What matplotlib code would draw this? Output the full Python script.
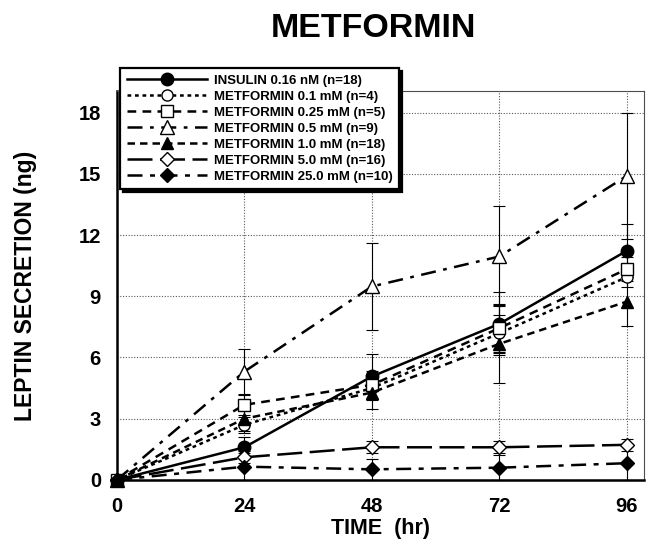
import matplotlib
matplotlib.use('Agg')
import matplotlib.pyplot as plt

plt.rcParams['font.family'] = ['Liberation Sans', 'DejaVu Sans']
plt.rcParams['font.weight'] = 'bold'

# time points (hr)
time = [0, 24, 48, 72, 96]

# leptin secretion (ng)
insulin = [0, 1.6, 5.07, 7.65, 11.23]
met_01 = [0, 2.7, 4.5, 7.19, 9.94]
met_025 = [0, 3.68, 4.66, 7.44, 10.33]
met_05 = [0, 5.31, 9.48, 10.95, 14.9]
met_10 = [0, 3.0, 4.28, 6.67, 8.74]
met_50 = [0, 1.11, 1.6, 1.6, 1.72]
met_250 = [0, 0.65, 0.52, 0.6, 0.82]

# error bars (ng)
insulin_err = [0, 0.5, 1.1, 1.55, 1.3]
met_01_err = [0, 0.4, 0.6, 0.9, 0.5]
met_025_err = [0, 0.5, 0.7, 1.2, 0.6]
met_05_err = [0, 1.1, 2.15, 2.45, 3.1]
met_10_err = [0, 0.6, 0.8, 1.9, 1.2]
met_50_err = [0, 0.3, 0.3, 0.3, 0.3]
met_250_err = [0, 0.65, 0.5, 0.6, 0.82]

labels = ['INSULIN 0.16 nM (n=18)', 'METFORMIN 0.1 mM (n=4)', 'METFORMIN 0.25 mM (n=5)',
          'METFORMIN 0.5 mM (n=9)', 'METFORMIN 1.0 mM (n=18)', 'METFORMIN 5.0 mM (n=16)',
          'METFORMIN 25.0 mM (n=10)']

fig = plt.figure(figsize=(6.53, 5.46), dpi=100)
ax = fig.add_axes([0.179, 0.121, 0.807, 0.712])

series = [
    (insulin, insulin_err, '-', 'o', 'black'),
    (met_01, met_01_err, (0, (1.5, 1.5)), 'o', 'white'),
    (met_025, met_025_err, (0, (3.5, 2.5)), 's', 'white'),
    (met_05, met_05_err, (0, (6, 3, 1.5, 3)), '^', 'white'),
    (met_10, met_10_err, (0, (3, 2)), '^', 'black'),
    (met_50, met_50_err, (0, (10, 3)), 'D', 'white'),
    (met_250, met_250_err, (0, (6, 3, 2, 3)), 'D', 'black'),
]
msizes = [9, 8, 8, 10, 9, 7, 7]

for (vals, err, ls, mk, fc), lab, ms in zip(series, labels, msizes):
    ax.errorbar(time, vals, yerr=err, fmt='none', ecolor='black', elinewidth=0.8,
                capsize=4, capthick=0.8, clip_on=False, zorder=2)
    ax.plot(time, vals, color='black', linestyle=ls, linewidth=1.8,
            marker=mk, markersize=ms, markerfacecolor=fc, markeredgecolor='black',
            markeredgewidth=1.0, label=lab, clip_on=False, zorder=3)

ax.set_xlim(0, 99.2)
ax.set_ylim(0, 19.05)
ax.set_xticks(time)
ax.set_yticks([0, 3, 6, 9, 12, 15, 18])
ax.tick_params(axis='both', length=0, labelsize=14.5)
ax.tick_params(axis='x', pad=12)
ax.tick_params(axis='y', pad=11.5)
ax.grid(True, linestyle=(0, (1, 1.5)), color='0.35', linewidth=0.8)

ax.spines['left'].set_linewidth(1.8)
ax.spines['bottom'].set_linewidth(1.8)
ax.spines['right'].set_linewidth(0.8)
ax.spines['top'].set_linewidth(0.8)
ax.spines['right'].set_color('0.3')
ax.spines['top'].set_color('0.3')

ax.set_xlabel('TIME  (hr)', fontsize=15.5, fontweight='bold', labelpad=2)
ax.set_ylabel('LEPTIN SECRETION (ng)', fontsize=16.5, fontweight='bold', labelpad=30)
fig.text(0.572, 0.948, 'METFORMIN', fontsize=24.5, fontweight='bold', ha='center', va='center')

leg = ax.legend(loc='upper left', bbox_to_anchor=(0.184, 0.875), bbox_transform=fig.transFigure,
                fontsize=9.5, handlelength=6.1, labelspacing=0.28, borderaxespad=0,
                fancybox=False, framealpha=1, edgecolor='black', handletextpad=0.5,
                shadow={'color': 'black', 'alpha': 1}, borderpad=0.5)
leg.get_frame().set_linewidth(1.6)
leg.set_zorder(5)
for t in leg.get_texts():
    t.set_fontweight('bold')

fig.savefig('out.png', dpi=100)
